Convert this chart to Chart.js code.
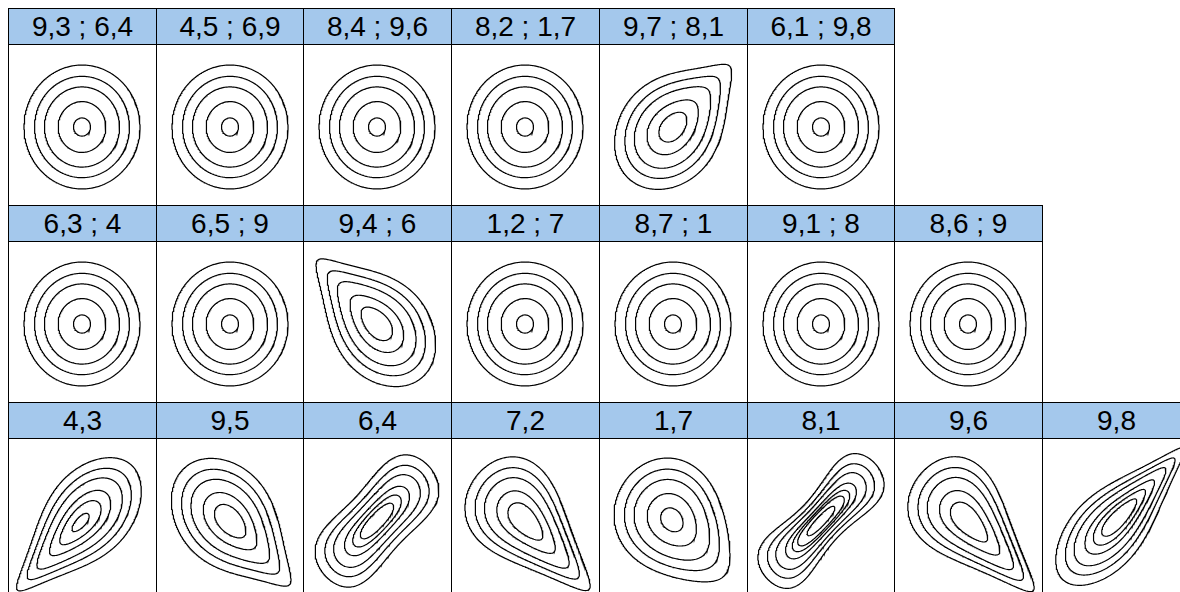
<!DOCTYPE html>
<html>
<head>
<meta charset="utf-8">
<script src="https://cdn.jsdelivr.net/npm/chart.js@4.4.1/dist/chart.umd.min.js"></script>
<style>
  body { margin: 0; background: #fff; width: 1180px; height: 592px; overflow: hidden; position: relative;
         font-family: "Liberation Sans", Arial, sans-serif; }
  .cell { position: absolute; box-sizing: border-box; border: 1px solid #000; background: #fff; }
  .head { position: absolute; left: 0; top: 0; right: 0; height: 36px; box-sizing: border-box;
          background: #a4c8ec; border-bottom: 1px solid #000; text-align: center;
          font-size: 28px; line-height: 35px; color: #000; white-space: nowrap; }
  canvas { position: absolute; }
</style>
</head>
<body>
<script>
// panel titles, as printed
var labelsRow1 = ['9,3 ; 6,4', '4,5 ; 6,9', '8,4 ; 9,6', '8,2 ; 1,7', '9,7 ; 8,1', '6,1 ; 9,8'];
var labelsRow2 = ['6,3 ; 4', '6,5 ; 9', '9,4 ; 6', '1,2 ; 7', '8,7 ; 1', '9,1 ; 8', '8,6 ; 9'];
var labelsRow3 = ['4,3', '9,5', '6,4', '7,2', '1,7', '8,1', '9,6', '9,8'];

// copula behind each panel (normal margins), estimated from the shapes
var familyRow1 = ['indep', 'indep', 'indep', 'indep', 'gumbel', 'indep'];
var thetaRow1  = [0, 0, 0, 0, 1.3, 0];
var rotRow1    = [0, 0, 0, 0, 0, 0];

var familyRow2 = ['indep', 'indep', 'gumbel', 'indep', 'indep', 'indep', 'indep'];
var thetaRow2  = [0, 0, 1.4, 0, 0, 0, 0];
var rotRow2    = [0, 0, 90, 0, 0, 0, 0];

var familyRow3 = ['gumbel', 'gumbel', 'frank', 'clayton', 'clayton', 'frank', 'clayton', 'gumbel'];
var thetaRow3  = [1.7, 1.4, 6, 1.0, 0.35, 9.5, 1.1, 2.1];
var rotRow3    = [180, 270, 0, 90, 90, 0, 90, 0];

// density levels of the contour lines
var levels = [0.01, 0.025, 0.05, 0.1, 0.15, 0.2, 0.3, 0.4, 0.5];

var N = 151, LO = -3, HI = 3;
var gx = [];
for (var i = 0; i < N; i++) gx.push(LO + (HI - LO) * i / (N - 1));

function erfc(x) {
  var z = Math.abs(x), t = 1 / (1 + 0.5 * z);
  var r = t * Math.exp(-z * z - 1.26551223 + t * (1.00002368 + t * (0.37409196 + t * (0.09678418 +
          t * (-0.18628806 + t * (0.27886807 + t * (-1.13520398 + t * (1.48851587 +
          t * (-0.82215223 + t * 0.17087277)))))))));
  return x >= 0 ? r : 2 - r;
}
function pnorm(x) { return 0.5 * erfc(-x / Math.SQRT2); }
function dnorm(x) { return Math.exp(-x * x / 2) / Math.sqrt(2 * Math.PI); }

function copulaDensity(fam, th) {
  if (fam === 'clayton') return function (u, v) {
    return (1 + th) * Math.pow(u * v, -1 - th) * Math.pow(Math.pow(u, -th) + Math.pow(v, -th) - 1, -1 / th - 2);
  };
  if (fam === 'gumbel') return function (u, v) {
    var a = -Math.log(u), b = -Math.log(v), S = Math.pow(a, th) + Math.pow(b, th), w = Math.pow(S, 1 / th);
    return Math.exp(-w) / (u * v) * Math.pow(a * b, th - 1) * Math.pow(S, 2 / th - 2) * (1 + (th - 1) / w);
  };
  if (fam === 'frank') return function (u, v) {
    var e = 1 - Math.exp(-th), d = e - (1 - Math.exp(-th * u)) * (1 - Math.exp(-th * v));
    return th * e * Math.exp(-th * (u + v)) / (d * d);
  };
  return function () { return 1; };
}

// density on the grid; rotations flip the normal margins
function densityGrid(fam, rot, th) {
  var U = gx.map(pnorm), P = gx.map(dnorm), c = copulaDensity(fam, th);
  var flipX = rot === 90 || rot === 180, flipY = rot === 180 || rot === 270;
  var F = [];
  for (var j = 0; j < N; j++) {
    var row = [], jj = flipY ? N - 1 - j : j;
    for (var i = 0; i < N; i++) {
      var ii = flipX ? N - 1 - i : i;
      row.push(c(U[ii], U[jj]) * P[ii] * P[jj]);
    }
    F.push(row);
  }
  return F;
}

// marching squares, segments joined into polylines
function traceLevel(F, level) {
  var adj = {}, pos = {};
  function cross(key, xa, ya, va, xb, yb, vb) {
    if (!pos[key]) { var t = (level - va) / (vb - va); pos[key] = { x: xa + t * (xb - xa), y: ya + t * (yb - ya) }; }
    return key;
  }
  function link(a, b) { (adj[a] = adj[a] || []).push(b); (adj[b] = adj[b] || []).push(a); }
  for (var j = 0; j < N - 1; j++) for (var i = 0; i < N - 1; i++) {
    var v0 = F[j][i], v1 = F[j][i + 1], v2 = F[j + 1][i + 1], v3 = F[j + 1][i];
    var c = (v0 > level ? 1 : 0) | (v1 > level ? 2 : 0) | (v2 > level ? 4 : 0) | (v3 > level ? 8 : 0);
    if (c === 0 || c === 15) continue;
    var x0 = gx[i], x1 = gx[i + 1], y0 = gx[j], y1 = gx[j + 1];
    var B = null, R = null, T = null, L = null;
    if ((c & 1) !== ((c >> 1) & 1)) B = cross('h' + i + '_' + j, x0, y0, v0, x1, y0, v1);
    if (((c >> 1) & 1) !== ((c >> 2) & 1)) R = cross('v' + (i + 1) + '_' + j, x1, y0, v1, x1, y1, v2);
    if (((c >> 3) & 1) !== ((c >> 2) & 1)) T = cross('h' + i + '_' + (j + 1), x0, y1, v3, x1, y1, v2);
    if ((c & 1) !== ((c >> 3) & 1)) L = cross('v' + i + '_' + j, x0, y0, v0, x0, y1, v3);
    if (c === 5 || c === 10) {
      var mid = (v0 + v1 + v2 + v3) / 4 > level;
      if ((c === 5) === mid) { link(B, R); link(T, L); } else { link(B, L); link(R, T); }
    } else {
      var e = [B, R, T, L].filter(function (k) { return k !== null; });
      link(e[0], e[1]);
    }
  }
  var seen = {}, lines = [], keys = Object.keys(adj);
  function walk(start) {
    var line = [pos[start]], cur = start;
    seen[start] = true;
    while (true) {
      var nb = adj[cur], next = null;
      for (var k = 0; k < nb.length; k++) if (!seen[nb[k]]) { next = nb[k]; break; }
      if (next === null) {
        if (nb.indexOf(start) >= 0 && line.length > 2) line.push(pos[start]);
        break;
      }
      seen[next] = true; line.push(pos[next]); cur = next;
    }
    return line;
  }
  keys.forEach(function (k) { if (!seen[k] && adj[k].length === 1) lines.push(walk(k)); });
  keys.forEach(function (k) { if (!seen[k]) lines.push(walk(k)); });
  return lines;
}

var rowTops = [8, 205, 402];
function colLeft(c) { return Math.round(8 + c * 147.7); }

function addPanel(r, c, label, fam, rot, th) {
  var left = colLeft(c), w = colLeft(c + 1) - left + 1, top = rowTops[r];
  var cell = document.createElement('div');
  cell.className = 'cell';
  cell.style.left = left + 'px'; cell.style.top = top + 'px';
  cell.style.width = w + 'px'; cell.style.height = '198px';
  var head = document.createElement('div');
  head.className = 'head';
  head.textContent = label;
  cell.appendChild(head);
  document.body.appendChild(cell);

  var cv = document.createElement('canvas');
  cv.width = 148; cv.height = 158;
  cv.style.left = left + 'px'; cv.style.top = (top + 40) + 'px';
  cv.style.width = '148px'; cv.style.height = '158px';
  document.body.appendChild(cv);

  var F = densityGrid(fam, rot, th);
  var datasets = [];
  levels.forEach(function (lv) {
    traceLevel(F, lv).forEach(function (pts) {
      datasets.push({ data: pts, showLine: true, borderColor: '#000', borderWidth: 1.2,
                      pointRadius: 0, tension: 0, fill: false });
    });
  });

  new Chart(cv, {
    type: 'scatter',
    data: { datasets: datasets },
    options: {
      responsive: false,
      animation: false,
      events: [],
      layout: { padding: 0 },
      plugins: { legend: { display: false }, tooltip: { enabled: false } },
      scales: {
        x: { type: 'linear', min: LO, max: HI, display: false },
        y: { type: 'linear', min: LO, max: HI, display: false }
      }
    }
  });
}

labelsRow1.forEach(function (lab, c) { addPanel(0, c, lab, familyRow1[c], rotRow1[c], thetaRow1[c]); });
labelsRow2.forEach(function (lab, c) { addPanel(1, c, lab, familyRow2[c], rotRow2[c], thetaRow2[c]); });
labelsRow3.forEach(function (lab, c) { addPanel(2, c, lab, familyRow3[c], rotRow3[c], thetaRow3[c]); });
</script>
</body>
</html>
